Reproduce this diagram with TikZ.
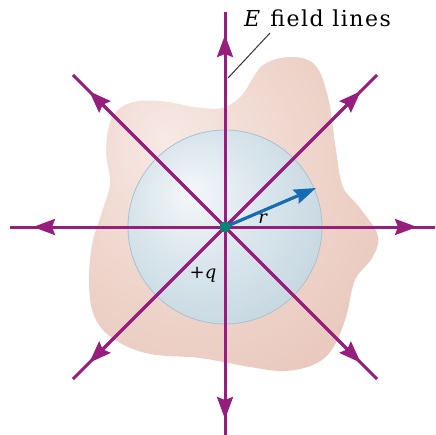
\documentclass[tikz,border=0pt]{standalone}
\usepackage{fontspec}
\setmainfont{DejaVu Serif}
\usetikzlibrary{arrows.meta}
\definecolor{FieldPurple}{RGB}{150,30,124}
\definecolor{RadiusBlue}{RGB}{22,108,178}
\definecolor{ChargeTeal}{RGB}{0,138,118}
\definecolor{blobhi}{RGB}{247,233,229}
\definecolor{blobmid}{RGB}{239,214,205}
\definecolor{bloblo}{RGB}{230,193,181}
\definecolor{spherehi}{RGB}{244,247,249}
\definecolor{spheremid}{RGB}{215,228,235}
\definecolor{spherelo}{RGB}{194,212,222}
\definecolor{sphereedge}{RGB}{170,193,207}
\pgfdeclareradialshading{blobshade}{\pgfpoint{-12bp}{12bp}}{color(0bp)=(blobhi); color(20bp)=(blobmid); color(45bp)=(bloblo); color(70bp)=(bloblo)}
\pgfdeclareradialshading{sphereshade}{\pgfpoint{-9bp}{9bp}}{color(0bp)=(spherehi); color(18bp)=(spheremid); color(36bp)=(spherelo); color(60bp)=(spherelo)}

\begin{document}
\begin{tikzpicture}[
  x=1pt,y=-1pt,
  font=\fontsize{18}{20}\selectfont,
  fieldline/.style={line width=3pt,FieldPurple},
  fieldtip/.style={-{Stealth[length=22pt,width=16pt,inset=3pt]},line width=3pt,FieldPurple},
  radarrow/.style={-{Stealth[length=22pt,width=15pt,inset=3pt]},line width=3.2pt,RadiusBlue},
  charge/.style={circle,fill=ChargeTeal,inner sep=0pt,minimum size=11pt},
  leader/.style={line width=1pt,black!80}
]
\useasboundingbox (0,0) rectangle (435,435);
\clip (0,0) rectangle (435,435);
\coordinate (q) at (225,227);

% irregular surface around the charge
\shade[shading=blobshade] plot[smooth cycle,tension=0.6] coordinates {
  (130,103) (160,101) (195,107) (222,108) (242,95) (262,66) (290,57)
  (315,65) (328,97) (336,150) (343,187) (360,208) (378,236) (372,258)
  (355,280) (346,317) (333,348) (315,364) (285,371) (250,367) (200,358)
  (150,354) (115,340) (95,318) (89,285) (92,245) (102,212) (110,183)
  (106,150) (112,118)};

% sphere of radius r
\shadedraw[shading=sphereshade,draw=sphereedge,line width=0.8pt] (q) circle[radius=97];

% field lines
\foreach \a in {0,45,...,315}{
  \path (q) ++(\a:215) coordinate (end\a);
  \path (q) ++(\a:192) coordinate (tip\a);
  \draw[fieldline] (q) -- (end\a);
  \draw[fieldtip] (q) -- (tip\a);
}

\coordinate (rtip) at (316,188);
\draw[radarrow] (q) -- (rtip);
\node[charge] (qdot) at (q) {};

% labels
\node[anchor=base west,inner sep=0pt,font=\fontsize{22}{24}\selectfont\addfontfeature{LetterSpace=7}]
  (elabel) at (244,27) {\textit{E} field lines};
\coordinate (leadtop) at (270,33);
\coordinate (leadbot) at (228,78);
\draw[leader] (leadtop) -- (leadbot);
\node (rlabel) at (263,219) {\textit{r}};
\node (qlabel) at (203,275) {+\textit{q}};
\end{tikzpicture}
\end{document}
